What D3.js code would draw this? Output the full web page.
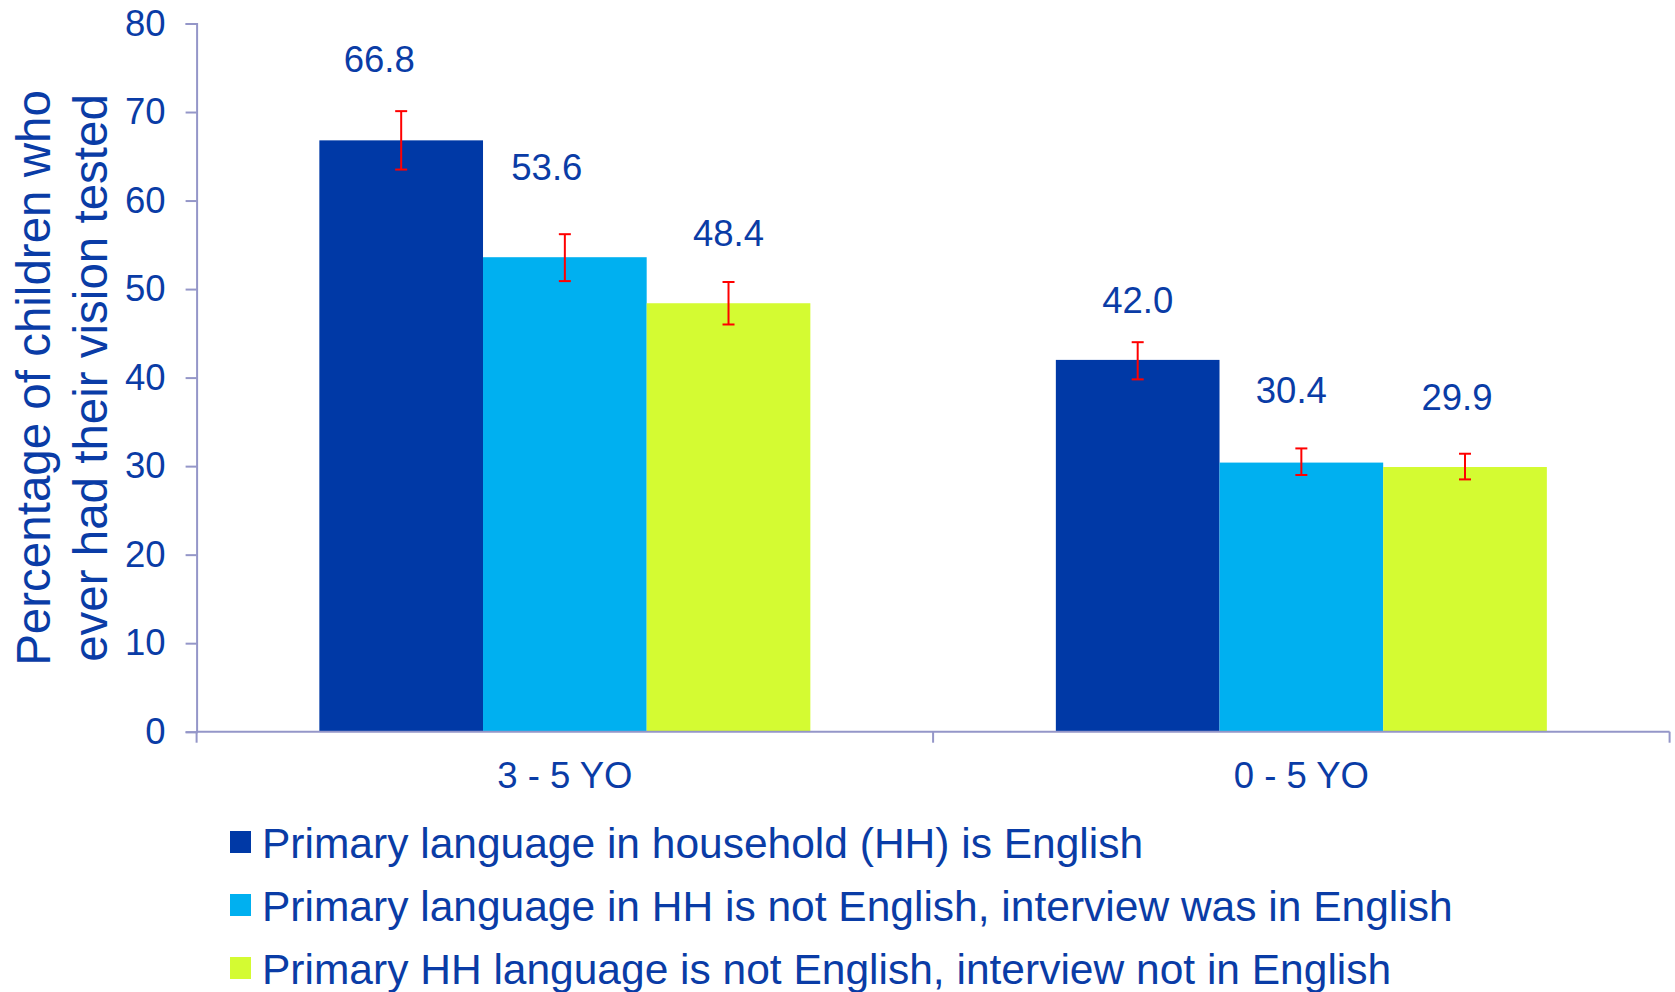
<!DOCTYPE html>
<html>
<head>
<meta charset="utf-8">
<script src="https://cdn.jsdelivr.net/npm/d3@7"></script>
<style>
  html, body { margin: 0; padding: 0; background: #fff; }
  text { font-family: Arial, "Liberation Sans", sans-serif; }
</style>
</head>
<body>
<script>
// data
var ageGroups = ["3 - 5 YO", "0 - 5 YO"]
var seriesNames = [
  "Primary language in household (HH) is English",
  "Primary language in HH is not English, interview was in English",
  "Primary HH language is not English, interview not in English"
]
var values = [
  [66.8, 53.6, 48.4],   // 3 - 5 YO
  [42.0, 30.4, 29.9]    // 0 - 5 YO
]
var errLow  = [[63.5, 50.9, 46.0], [39.8, 29.0, 28.5]]
var errHigh = [[70.1, 56.2, 50.8], [44.0, 32.0, 31.4]]
var yTicks = [0, 10, 20, 30, 40, 50, 60, 70, 80]
var yTitle = ["Percentage of children who", "ever had their vision tested"]

// layout / style
var w = 1675, h = 992
var colors = ["#0039a6", "#00b0f0", "#d4fb32"]
var textCol = "#0a3ca6"
var axisCol = "#9496c8"
// the value labels were placed by hand in the original, small nudges in px [dx, dy]
var labelNudge = [[[-22, 2], [-18, -13], [0, 5]], [[0, 12], [-10, -5], [-8, -3]]]

var svg = d3.select("body").append("svg")
  .attr("width", w)
  .attr("height", h)

var x0 = d3.scaleBand().domain(ageGroups).range([196.6, 1669.6]).padding(0)
var x1 = d3.scaleBand().domain(d3.range(seriesNames.length))
  .range([0, x0.bandwidth()]).paddingInner(0).paddingOuter(0.75)
var y = d3.scaleLinear().domain([0, 80]).range([731.7, 23.5])

// y axis
var yAxis = svg.append("g").attr("transform", "translate(" + x0.range()[0] + ",0)")
  .call(d3.axisLeft(y).tickValues(yTicks).tickSize(11).tickPadding(20))
yAxis.select(".domain").attr("stroke", axisCol).attr("stroke-width", 2)
yAxis.selectAll(".tick line").attr("stroke", axisCol).attr("stroke-width", 2)
yAxis.selectAll(".tick text").attr("fill", textCol).attr("font-size", 36.5)
  .attr("font-family", "Arial, 'Liberation Sans', sans-serif")

// bars
var groups = svg.selectAll(".grp").data(ageGroups).enter().append("g")
  .attr("class", "grp")
  .attr("transform", function(d) { return "translate(" + x0(d) + ",0)" })

groups.each(function(g, gi) {
  var gsel = d3.select(this)
  var rows = values[gi].map(function(v, si) {
    return { v: v, si: si, lo: errLow[gi][si], hi: errHigh[gi][si], nudge: labelNudge[gi][si] }
  })
  gsel.selectAll("rect").data(rows).enter().append("rect")
    .attr("x", function(d) { return x1(d.si) })
    .attr("width", x1.bandwidth())
    .attr("y", function(d) { return y(d.v) })
    .attr("height", function(d) { return y(0) - y(d.v) })
    .attr("fill", function(d) { return colors[d.si] })

  var eb = gsel.selectAll(".err").data(rows).enter().append("g").attr("class", "err")
    .attr("stroke", "#ff0000").attr("stroke-width", 2)
  eb.append("line")
    .attr("x1", function(d) { return x1(d.si) + x1.bandwidth() / 2 })
    .attr("x2", function(d) { return x1(d.si) + x1.bandwidth() / 2 })
    .attr("y1", function(d) { return y(d.lo) })
    .attr("y2", function(d) { return y(d.hi) })
  ;["lo", "hi"].forEach(function(k) {
    eb.append("line")
      .attr("x1", function(d) { return x1(d.si) + x1.bandwidth() / 2 - 6 })
      .attr("x2", function(d) { return x1(d.si) + x1.bandwidth() / 2 + 6 })
      .attr("y1", function(d) { return y(d[k]) })
      .attr("y2", function(d) { return y(d[k]) })
  })

  gsel.selectAll(".val").data(rows).enter().append("text").attr("class", "val")
    .attr("x", function(d) { return x1(d.si) + x1.bandwidth() / 2 + d.nudge[0] })
    .attr("y", function(d) { return y(d.hi) - 54 + d.nudge[1] })
    .attr("dy", "0.36em")
    .attr("text-anchor", "middle")
    .attr("font-size", 36.5)
    .attr("fill", textCol)
    .text(function(d) { return d.v.toFixed(1) })
})

// x axis (drawn over bars bottom)
var xAxis = svg.append("g").attr("transform", "translate(0," + y(0) + ")")
xAxis.append("line")
  .attr("x1", x0.range()[0]).attr("x2", x0.range()[1])
  .attr("stroke", axisCol).attr("stroke-width", 2)
var xTickPos = ageGroups.map(function(d) { return x0(d) }).concat([x0.range()[1]])
xAxis.selectAll(".xt").data(xTickPos).enter().append("line").attr("class", "xt")
  .attr("x1", function(d) { return d }).attr("x2", function(d) { return d })
  .attr("y1", 0).attr("y2", 11)
  .attr("stroke", axisCol).attr("stroke-width", 2)
xAxis.selectAll(".xl").data(ageGroups).enter().append("text").attr("class", "xl")
  .attr("x", function(d) { return x0(d) + x0.bandwidth() / 2 })
  .attr("y", 56)
  .attr("text-anchor", "middle")
  .attr("font-size", 36.5)
  .attr("fill", textCol)
  .text(function(d) { return d })

// y title, two lines rotated
svg.selectAll(".yt").data(yTitle).enter().append("text").attr("class", "yt")
  .attr("transform", function(d, i) { return "translate(" + (50 + i * 57) + ",378) rotate(-90)" })
  .attr("text-anchor", "middle")
  .attr("font-size", 47.5)
  .attr("fill", textCol)
  .text(function(d) { return d })

// legend
var leg = svg.selectAll(".leg").data(seriesNames).enter().append("g").attr("class", "leg")
  .attr("transform", function(d, i) { return "translate(230," + (858 + i * 63) + ")" })
leg.append("rect")
  .attr("x", 0).attr("y", -27).attr("width", 21).attr("height", 22)
  .attr("fill", function(d, i) { return colors[i] })
leg.append("text")
  .attr("x", 32).attr("y", 0)
  .attr("font-size", 42.5)
  .attr("fill", textCol)
  .text(function(d) { return d })
</script>
</body>
</html>
